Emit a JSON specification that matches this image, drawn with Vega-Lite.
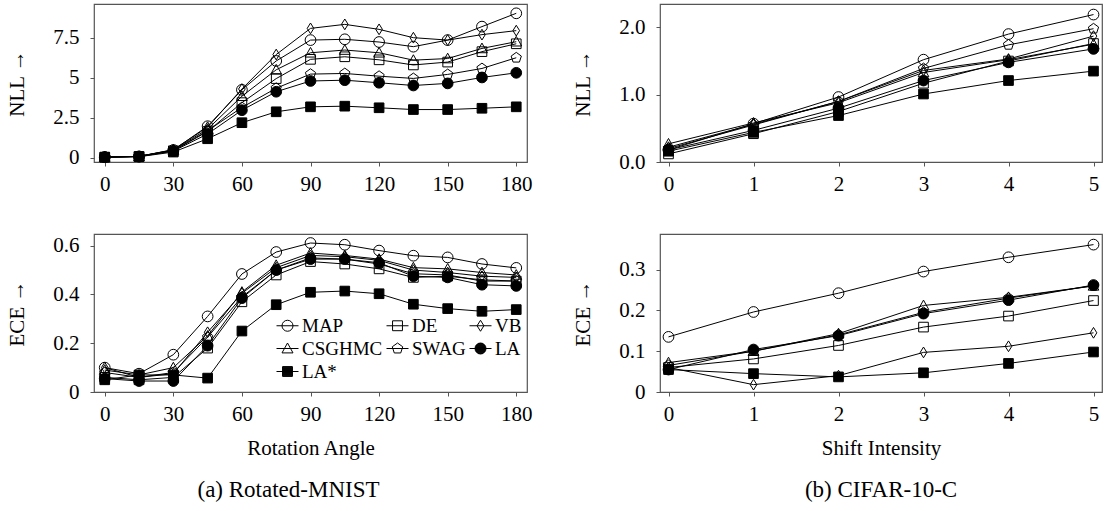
{
  "$schema": "https://vega.github.io/schema/vega-lite/v6.json",
  "padding": {"left": 6, "top": 3, "right": 2, "bottom": 2},
  "background": "white",
  "datasets": {
    "mnist": [
      {"angle": 0, "method": "MAP", "nll": 0.06, "ece": 0.1},
      {"angle": 15, "method": "MAP", "nll": 0.1, "ece": 0.075},
      {"angle": 30, "method": "MAP", "nll": 0.5, "ece": 0.153},
      {"angle": 45, "method": "MAP", "nll": 1.98, "ece": 0.31},
      {"angle": 60, "method": "MAP", "nll": 4.25, "ece": 0.484},
      {"angle": 75, "method": "MAP", "nll": 6.05, "ece": 0.574},
      {"angle": 90, "method": "MAP", "nll": 7.35, "ece": 0.611},
      {"angle": 105, "method": "MAP", "nll": 7.4, "ece": 0.604},
      {"angle": 120, "method": "MAP", "nll": 7.23, "ece": 0.58},
      {"angle": 135, "method": "MAP", "nll": 6.94, "ece": 0.559},
      {"angle": 150, "method": "MAP", "nll": 7.35, "ece": 0.552},
      {"angle": 165, "method": "MAP", "nll": 8.19, "ece": 0.525},
      {"angle": 180, "method": "MAP", "nll": 9.02, "ece": 0.509},
      {"angle": 0, "method": "DE", "nll": 0.05, "ece": 0.06},
      {"angle": 15, "method": "DE", "nll": 0.1, "ece": 0.05},
      {"angle": 30, "method": "DE", "nll": 0.45, "ece": 0.06},
      {"angle": 45, "method": "DE", "nll": 1.65, "ece": 0.18},
      {"angle": 60, "method": "DE", "nll": 3.45, "ece": 0.37},
      {"angle": 75, "method": "DE", "nll": 4.95, "ece": 0.48},
      {"angle": 90, "method": "DE", "nll": 6.15, "ece": 0.535},
      {"angle": 105, "method": "DE", "nll": 6.31, "ece": 0.525},
      {"angle": 120, "method": "DE", "nll": 6.12, "ece": 0.505},
      {"angle": 135, "method": "DE", "nll": 5.8, "ece": 0.47},
      {"angle": 150, "method": "DE", "nll": 5.98, "ece": 0.475},
      {"angle": 165, "method": "DE", "nll": 6.63, "ece": 0.46},
      {"angle": 180, "method": "DE", "nll": 7.12, "ece": 0.455},
      {"angle": 0, "method": "VB", "nll": 0.06, "ece": 0.1},
      {"angle": 15, "method": "VB", "nll": 0.1, "ece": 0.06},
      {"angle": 30, "method": "VB", "nll": 0.52, "ece": 0.075},
      {"angle": 45, "method": "VB", "nll": 1.92, "ece": 0.245},
      {"angle": 60, "method": "VB", "nll": 4.3, "ece": 0.405},
      {"angle": 75, "method": "VB", "nll": 6.45, "ece": 0.51},
      {"angle": 90, "method": "VB", "nll": 8.08, "ece": 0.56},
      {"angle": 105, "method": "VB", "nll": 8.33, "ece": 0.555},
      {"angle": 120, "method": "VB", "nll": 8.02, "ece": 0.54},
      {"angle": 135, "method": "VB", "nll": 7.5, "ece": 0.5},
      {"angle": 150, "method": "VB", "nll": 7.35, "ece": 0.49},
      {"angle": 165, "method": "VB", "nll": 7.69, "ece": 0.475},
      {"angle": 180, "method": "VB", "nll": 7.94, "ece": 0.47},
      {"angle": 0, "method": "CSGHMC", "nll": 0.06, "ece": 0.09},
      {"angle": 15, "method": "CSGHMC", "nll": 0.1, "ece": 0.07},
      {"angle": 30, "method": "CSGHMC", "nll": 0.5, "ece": 0.1},
      {"angle": 45, "method": "CSGHMC", "nll": 1.8, "ece": 0.23},
      {"angle": 60, "method": "CSGHMC", "nll": 3.85, "ece": 0.41},
      {"angle": 75, "method": "CSGHMC", "nll": 5.5, "ece": 0.52},
      {"angle": 90, "method": "CSGHMC", "nll": 6.56, "ece": 0.57},
      {"angle": 105, "method": "CSGHMC", "nll": 6.73, "ece": 0.56},
      {"angle": 120, "method": "CSGHMC", "nll": 6.56, "ece": 0.545},
      {"angle": 135, "method": "CSGHMC", "nll": 6.1, "ece": 0.51},
      {"angle": 150, "method": "CSGHMC", "nll": 6.2, "ece": 0.505},
      {"angle": 165, "method": "CSGHMC", "nll": 6.83, "ece": 0.49},
      {"angle": 180, "method": "CSGHMC", "nll": 7.25, "ece": 0.48},
      {"angle": 0, "method": "SWAG", "nll": 0.06, "ece": 0.08},
      {"angle": 15, "method": "SWAG", "nll": 0.1, "ece": 0.06},
      {"angle": 30, "method": "SWAG", "nll": 0.47, "ece": 0.08},
      {"angle": 45, "method": "SWAG", "nll": 1.7, "ece": 0.225},
      {"angle": 60, "method": "SWAG", "nll": 3.15, "ece": 0.39},
      {"angle": 75, "method": "SWAG", "nll": 4.35, "ece": 0.5},
      {"angle": 90, "method": "SWAG", "nll": 5.23, "ece": 0.55},
      {"angle": 105, "method": "SWAG", "nll": 5.27, "ece": 0.545},
      {"angle": 120, "method": "SWAG", "nll": 5.1, "ece": 0.525},
      {"angle": 135, "method": "SWAG", "nll": 4.96, "ece": 0.485},
      {"angle": 150, "method": "SWAG", "nll": 5.21, "ece": 0.48},
      {"angle": 165, "method": "SWAG", "nll": 5.58, "ece": 0.455},
      {"angle": 180, "method": "SWAG", "nll": 6.25, "ece": 0.455},
      {"angle": 0, "method": "LA", "nll": 0.05, "ece": 0.055},
      {"angle": 15, "method": "LA", "nll": 0.08, "ece": 0.045},
      {"angle": 30, "method": "LA", "nll": 0.43, "ece": 0.045},
      {"angle": 45, "method": "LA", "nll": 1.5, "ece": 0.19},
      {"angle": 60, "method": "LA", "nll": 2.98, "ece": 0.385},
      {"angle": 75, "method": "LA", "nll": 4.13, "ece": 0.5},
      {"angle": 90, "method": "LA", "nll": 4.8, "ece": 0.545},
      {"angle": 105, "method": "LA", "nll": 4.85, "ece": 0.545},
      {"angle": 120, "method": "LA", "nll": 4.69, "ece": 0.53},
      {"angle": 135, "method": "LA", "nll": 4.52, "ece": 0.475},
      {"angle": 150, "method": "LA", "nll": 4.65, "ece": 0.47},
      {"angle": 165, "method": "LA", "nll": 5.02, "ece": 0.44},
      {"angle": 180, "method": "LA", "nll": 5.31, "ece": 0.435},
      {"angle": 0, "method": "LA*", "nll": 0.05, "ece": 0.05},
      {"angle": 15, "method": "LA*", "nll": 0.08, "ece": 0.07},
      {"angle": 30, "method": "LA*", "nll": 0.37, "ece": 0.07},
      {"angle": 45, "method": "LA*", "nll": 1.2, "ece": 0.057},
      {"angle": 60, "method": "LA*", "nll": 2.2, "ece": 0.25},
      {"angle": 75, "method": "LA*", "nll": 2.88, "ece": 0.358},
      {"angle": 90, "method": "LA*", "nll": 3.19, "ece": 0.409},
      {"angle": 105, "method": "LA*", "nll": 3.23, "ece": 0.414},
      {"angle": 120, "method": "LA*", "nll": 3.13, "ece": 0.403},
      {"angle": 135, "method": "LA*", "nll": 3.02, "ece": 0.36},
      {"angle": 150, "method": "LA*", "nll": 3.02, "ece": 0.342},
      {"angle": 165, "method": "LA*", "nll": 3.1, "ece": 0.331},
      {"angle": 180, "method": "LA*", "nll": 3.19, "ece": 0.338}
    ],
    "cifar": [
      {"intensity": 0, "method": "MAP", "nll": 0.18, "ece": 0.135},
      {"intensity": 1, "method": "MAP", "nll": 0.57, "ece": 0.196},
      {"intensity": 2, "method": "MAP", "nll": 0.965, "ece": 0.242},
      {"intensity": 3, "method": "MAP", "nll": 1.52, "ece": 0.295},
      {"intensity": 4, "method": "MAP", "nll": 1.9, "ece": 0.33},
      {"intensity": 5, "method": "MAP", "nll": 2.19, "ece": 0.361},
      {"intensity": 0, "method": "DE", "nll": 0.12, "ece": 0.06},
      {"intensity": 1, "method": "DE", "nll": 0.42, "ece": 0.081},
      {"intensity": 2, "method": "DE", "nll": 0.75, "ece": 0.114},
      {"intensity": 3, "method": "DE", "nll": 1.17, "ece": 0.159},
      {"intensity": 4, "method": "DE", "nll": 1.5, "ece": 0.186},
      {"intensity": 5, "method": "DE", "nll": 1.76, "ece": 0.224},
      {"intensity": 0, "method": "VB", "nll": 0.22, "ece": 0.06},
      {"intensity": 1, "method": "VB", "nll": 0.56, "ece": 0.018},
      {"intensity": 2, "method": "VB", "nll": 0.9, "ece": 0.04},
      {"intensity": 3, "method": "VB", "nll": 1.36, "ece": 0.097},
      {"intensity": 4, "method": "VB", "nll": 1.53, "ece": 0.112},
      {"intensity": 5, "method": "VB", "nll": 1.87, "ece": 0.145},
      {"intensity": 0, "method": "CSGHMC", "nll": 0.27, "ece": 0.072},
      {"intensity": 1, "method": "CSGHMC", "nll": 0.58, "ece": 0.1},
      {"intensity": 2, "method": "CSGHMC", "nll": 0.88, "ece": 0.143},
      {"intensity": 3, "method": "CSGHMC", "nll": 1.33, "ece": 0.212},
      {"intensity": 4, "method": "CSGHMC", "nll": 1.52, "ece": 0.232},
      {"intensity": 5, "method": "CSGHMC", "nll": 1.75, "ece": 0.26},
      {"intensity": 0, "method": "SWAG", "nll": 0.2, "ece": 0.065},
      {"intensity": 1, "method": "SWAG", "nll": 0.55, "ece": 0.1},
      {"intensity": 2, "method": "SWAG", "nll": 0.9, "ece": 0.14},
      {"intensity": 3, "method": "SWAG", "nll": 1.39, "ece": 0.195},
      {"intensity": 4, "method": "SWAG", "nll": 1.74, "ece": 0.23},
      {"intensity": 5, "method": "SWAG", "nll": 1.98, "ece": 0.26},
      {"intensity": 0, "method": "LA", "nll": 0.18, "ece": 0.055},
      {"intensity": 1, "method": "LA", "nll": 0.47, "ece": 0.104},
      {"intensity": 2, "method": "LA", "nll": 0.8, "ece": 0.138},
      {"intensity": 3, "method": "LA", "nll": 1.21, "ece": 0.192},
      {"intensity": 4, "method": "LA", "nll": 1.48, "ece": 0.225},
      {"intensity": 5, "method": "LA", "nll": 1.68, "ece": 0.262},
      {"intensity": 0, "method": "LA*", "nll": 0.16, "ece": 0.055},
      {"intensity": 1, "method": "LA*", "nll": 0.44, "ece": 0.045},
      {"intensity": 2, "method": "LA*", "nll": 0.69, "ece": 0.037},
      {"intensity": 3, "method": "LA*", "nll": 1.01, "ece": 0.047},
      {"intensity": 4, "method": "LA*", "nll": 1.21, "ece": 0.07},
      {"intensity": 5, "method": "LA*", "nll": 1.35, "ece": 0.098}
    ]
  },
  "columns": 2,
  "spacing": {"row": 38, "column": 39},
  "align": "each",
  "resolve": {"scale": {"x": "independent", "y": "independent", "shape": "independent", "fill": "independent"}, "legend": {"shape": "independent", "fill": "independent"}},
  "concat": [
    {
      "width": 433, "height": 158,
      "data": {"name": "mnist"},
      "layer": [
        {"mark": {"type": "line", "stroke": "black", "strokeWidth": 1},
         "encoding": {
           "x": {"field": "angle", "type": "quantitative", "scale": {"domain": [-4.7, 184.7], "nice": false, "zero": false}, "axis": {"values": [0, 30, 60, 90, 120, 150, 180], "format": "d", "title": null}},
           "y": {"field": "nll", "type": "quantitative", "scale": {"domain": [-0.25, 9.6], "nice": false, "zero": false}, "axis": {"values": [0, 2.5, 5, 7.5], "format": ".2~g", "title": "NLL →", "titlePadding": 25}},
           "detail": {"field": "method"}}},
        {"mark": {"type": "point", "stroke": "black", "strokeWidth": 1, "opacity": 1, "size": 115},
         "encoding": {
           "x": {"field": "angle", "type": "quantitative"},
           "y": {"field": "nll", "type": "quantitative"},
           "shape": {"field": "method", "type": "nominal", "legend": null, "scale": {"domain": ["MAP", "DE", "VB", "CSGHMC", "SWAG", "LA", "LA*"], "range": ["circle", "M-0.9,-0.9L0.9,-0.9L0.9,0.9L-0.9,0.9Z", "M0,-1L0.62,0L0,1L-0.62,0Z", "M0,-1L1,0.8L-1,0.8Z", "M0,-1L0.951,-0.309L0.588,0.809L-0.588,0.809L-0.951,-0.309Z", "circle", "M-0.9,-0.9L0.9,-0.9L0.9,0.9L-0.9,0.9Z"]}},
           "fill": {"field": "method", "type": "nominal", "legend": null, "scale": {"domain": ["MAP", "DE", "VB", "CSGHMC", "SWAG", "LA", "LA*"], "range": ["transparent", "transparent", "transparent", "transparent", "transparent", "black", "black"]}}}}
      ]
    },
    {
      "width": 442, "height": 158,
      "data": {"name": "cifar"},
      "layer": [
        {"mark": {"type": "line", "stroke": "black", "strokeWidth": 1},
         "encoding": {
           "x": {"field": "intensity", "type": "quantitative", "scale": {"domain": [-0.1, 5.1], "nice": false, "zero": false}, "axis": {"values": [0, 1, 2, 3, 4, 5], "format": "d", "title": null}},
           "y": {"field": "nll", "type": "quantitative", "scale": {"domain": [0, 2.347], "nice": false, "zero": false}, "axis": {"values": [0, 1, 2], "format": ".1f", "title": "NLL →", "titlePadding": 25}},
           "detail": {"field": "method"}}},
        {"mark": {"type": "point", "stroke": "black", "strokeWidth": 1, "opacity": 1, "size": 115},
         "encoding": {
           "x": {"field": "intensity", "type": "quantitative"},
           "y": {"field": "nll", "type": "quantitative"},
           "shape": {"field": "method", "type": "nominal", "legend": null, "scale": {"domain": ["MAP", "DE", "VB", "CSGHMC", "SWAG", "LA", "LA*"], "range": ["circle", "M-0.9,-0.9L0.9,-0.9L0.9,0.9L-0.9,0.9Z", "M0,-1L0.62,0L0,1L-0.62,0Z", "M0,-1L1,0.8L-1,0.8Z", "M0,-1L0.951,-0.309L0.588,0.809L-0.588,0.809L-0.951,-0.309Z", "circle", "M-0.9,-0.9L0.9,-0.9L0.9,0.9L-0.9,0.9Z"]}},
           "fill": {"field": "method", "type": "nominal", "legend": null, "scale": {"domain": ["MAP", "DE", "VB", "CSGHMC", "SWAG", "LA", "LA*"], "range": ["transparent", "transparent", "transparent", "transparent", "transparent", "black", "black"]}}}}
      ]
    },
    {
      "width": 433, "height": 158,
      "data": {"name": "mnist"},
      "title": {"text": "(a) Rotated-MNIST", "orient": "bottom", "anchor": "middle", "font": "Liberation Serif", "fontSize": 23, "fontWeight": "normal", "color": "black", "offset": 21, "dx": -22},
      "resolve": {"scale": {"shape": "independent", "fill": "independent"}, "legend": {"shape": "independent", "fill": "independent"}},
      "layer": [
        {"mark": {"type": "line", "stroke": "black", "strokeWidth": 1},
         "encoding": {
           "x": {"field": "angle", "type": "quantitative", "scale": {"domain": [-4.7, 184.7], "nice": false, "zero": false}, "axis": {"values": [0, 30, 60, 90, 120, 150, 180], "format": "d", "title": "Rotation Angle"}},
           "y": {"field": "ece", "type": "quantitative", "scale": {"domain": [0, 0.648], "nice": false, "zero": false}, "axis": {"values": [0, 0.2, 0.4, 0.6], "format": ".2~g", "title": "ECE →", "titlePadding": 25}},
           "detail": {"field": "method"}}},
        {"mark": {"type": "point", "stroke": "black", "strokeWidth": 1, "opacity": 1, "size": 115},
         "encoding": {
           "x": {"field": "angle", "type": "quantitative"},
           "y": {"field": "ece", "type": "quantitative"},
           "shape": {"field": "method", "type": "nominal", "legend": null, "scale": {"domain": ["MAP", "DE", "VB", "CSGHMC", "SWAG", "LA", "LA*"], "range": ["circle", "M-0.9,-0.9L0.9,-0.9L0.9,0.9L-0.9,0.9Z", "M0,-1L0.62,0L0,1L-0.62,0Z", "M0,-1L1,0.8L-1,0.8Z", "M0,-1L0.951,-0.309L0.588,0.809L-0.588,0.809L-0.951,-0.309Z", "circle", "M-0.9,-0.9L0.9,-0.9L0.9,0.9L-0.9,0.9Z"]}},
           "fill": {"field": "method", "type": "nominal", "legend": null, "scale": {"domain": ["MAP", "DE", "VB", "CSGHMC", "SWAG", "LA", "LA*"], "range": ["transparent", "transparent", "transparent", "transparent", "transparent", "black", "black"]}}}},
        {"transform": [{"filter": "datum.angle < -1000"}],
         "mark": {"type": "point", "filled": false, "color": "black", "stroke": "black", "strokeWidth": 1, "opacity": 1, "size": 484},
         "encoding": {
           "x": {"field": "angle", "type": "quantitative"},
           "y": {"field": "ece", "type": "quantitative"},
           "shape": {"field": "method", "type": "nominal",
             "scale": {"domain": ["MAP", "DE", "VB", "CSGHMC", "SWAG", "LA", "LA*"], "range": [
               "M-1,0L1,0M0.5,0A0.5,0.5,0,1,1,-0.5,0A0.5,0.5,0,1,1,0.5,0Z",
               "M-1,0L1,0M-0.45,-0.45L0.45,-0.45L0.45,0.45L-0.45,0.45Z",
               "M-1,0L1,0M0,-0.5L0.31,0L0,0.5L-0.31,0Z",
               "M-1,0L1,0M0,-0.5L0.5,0.4L-0.5,0.4Z",
               "M-1,0L1,0M0,-0.5L0.476,-0.155L0.294,0.405L-0.294,0.405L-0.476,-0.155Z",
               "M-1,0L1,0M0.5,0A0.5,0.5,0,1,1,-0.5,0A0.5,0.5,0,1,1,0.5,0ZM-0.218,-0.45L0.218,-0.45M-0.347,-0.36L0.347,-0.36M-0.421,-0.27L0.421,-0.27M-0.466,-0.18L0.466,-0.18M-0.492,-0.09L0.492,-0.09M-0.492,0.09L0.492,0.09M-0.466,0.18L0.466,0.18M-0.421,0.27L0.421,0.27M-0.347,0.36L0.347,0.36M-0.218,0.45L0.218,0.45",
               "M-1,0L1,0M-0.45,-0.45L0.45,-0.45L0.45,0.45L-0.45,0.45ZM-0.45,-0.36L0.45,-0.36M-0.45,-0.27L0.45,-0.27M-0.45,-0.18L0.45,-0.18M-0.45,-0.09L0.45,-0.09M-0.45,0.09L0.45,0.09M-0.45,0.18L0.45,0.18M-0.45,0.27L0.45,0.27M-0.45,0.36L0.45,0.36"]},
             "legend": {
               "title": null, "orient": "none", "legendX": 182, "legendY": 80, "columns": 3, "direction": "horizontal",
               "padding": 0, "columnPadding": 1, "rowPadding": 1, "labelOffset": 3,
               "symbolSize": 484, "symbolStrokeWidth": 1, "symbolStrokeColor": "black",
               "labelFont": "Liberation Serif", "labelFontSize": 19, "labelColor": "black", "labelLimit": 200,
               "encode": {"symbols": {"update": {
                 "stroke": {"value": "black"},
                 "strokeWidth": {"value": 1},
                 "opacity": {"value": 1}
               }}}
             }}}}
      ]
    },
    {
      "width": 442, "height": 158,
      "data": {"name": "cifar"},
      "title": {"text": "(b) CIFAR-10-C", "orient": "bottom", "anchor": "middle", "font": "Liberation Serif", "fontSize": 23, "fontWeight": "normal", "color": "black", "offset": 21},
      "layer": [
        {"mark": {"type": "line", "stroke": "black", "strokeWidth": 1},
         "encoding": {
           "x": {"field": "intensity", "type": "quantitative", "scale": {"domain": [-0.1, 5.1], "nice": false, "zero": false}, "axis": {"values": [0, 1, 2, 3, 4, 5], "format": "d", "title": "Shift Intensity"}},
           "y": {"field": "ece", "type": "quantitative", "scale": {"domain": [0, 0.387], "nice": false, "zero": false}, "axis": {"values": [0, 0.1, 0.2, 0.3], "format": ".2~g", "title": "ECE →", "titlePadding": 25}},
           "detail": {"field": "method"}}},
        {"mark": {"type": "point", "stroke": "black", "strokeWidth": 1, "opacity": 1, "size": 115},
         "encoding": {
           "x": {"field": "intensity", "type": "quantitative"},
           "y": {"field": "ece", "type": "quantitative"},
           "shape": {"field": "method", "type": "nominal", "legend": null, "scale": {"domain": ["MAP", "DE", "VB", "CSGHMC", "SWAG", "LA", "LA*"], "range": ["circle", "M-0.9,-0.9L0.9,-0.9L0.9,0.9L-0.9,0.9Z", "M0,-1L0.62,0L0,1L-0.62,0Z", "M0,-1L1,0.8L-1,0.8Z", "M0,-1L0.951,-0.309L0.588,0.809L-0.588,0.809L-0.951,-0.309Z", "circle", "M-0.9,-0.9L0.9,-0.9L0.9,0.9L-0.9,0.9Z"]}},
           "fill": {"field": "method", "type": "nominal", "legend": null, "scale": {"domain": ["MAP", "DE", "VB", "CSGHMC", "SWAG", "LA", "LA*"], "range": ["transparent", "transparent", "transparent", "transparent", "transparent", "black", "black"]}}}}
      ]
    }
  ],
  "config": {
    "font": "Liberation Serif",
    "view": {"stroke": "#555555", "strokeWidth": 1.2},
    "axis": {
      "grid": false, "domain": false,
      "labelFont": "Liberation Serif", "labelFontSize": 21, "labelColor": "black", "labelPadding": 11,
      "titleFont": "Liberation Serif", "titleFontSize": 21, "titleFontWeight": "normal", "titleColor": "black",
      "tickColor": "#555555", "tickSize": 4, "tickWidth": 1,
      "labelFlush": false, "labelOverlap": false
    },
    "axisX": {"titlePadding": 13, "labelPadding": 7}
  }
}
